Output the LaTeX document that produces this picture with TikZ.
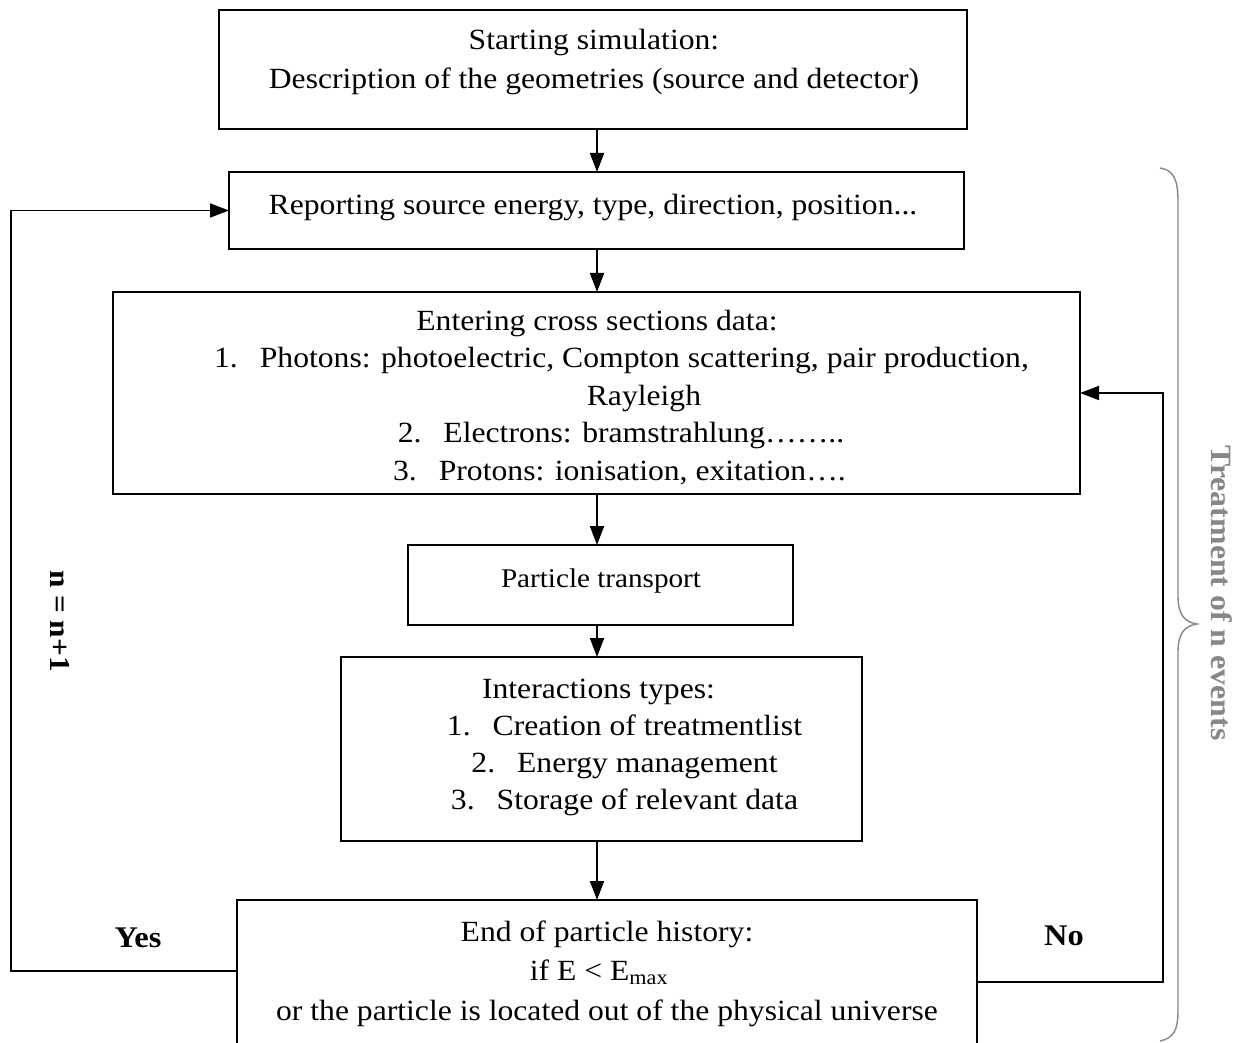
\documentclass[tikz,border=0pt]{standalone}
\usepackage{fontspec}
\setmainfont{Liberation Serif}[FakeStretch=1.08]
\usetikzlibrary{arrows.meta}
\definecolor{bracegray}{RGB}{135,135,135}

\begin{document}
\begin{tikzpicture}[x=1pt,y=-1pt,
  flowbox/.style={draw, line width=1.8pt, inner sep=0pt, outer sep=0pt},
  txt/.style={align=center, inner sep=0pt,
    font=\fontsize{29.3}{#1}\selectfont,
    execute at begin node=\strut, execute at end node=\strut},
  txt/.default=37.5,
  lbl/.style={inner sep=0pt, font=\fontsize{30}{36}\selectfont\bfseries},
  arr/.style={line width=1.8pt, -{Triangle[length=19pt,width=14pt]}}]

% page area
\clip (0,0) rectangle (1243,1043);
\fill[white] (0,0) rectangle (1243,1043);

% boxes
\node[flowbox, minimum width=748pt, minimum height=119pt] (b1) at (593,69.5) {};
\node[flowbox, minimum width=735pt, minimum height=77pt]  (b2) at (596.5,210.5) {};
\node[flowbox, minimum width=967pt, minimum height=202pt] (b3) at (596.5,393) {};
\node[flowbox, minimum width=385pt, minimum height=80pt]  (b4) at (600.5,585) {};
\node[flowbox, minimum width=521pt, minimum height=184pt] (b5) at (601.5,749) {};
\node[flowbox, minimum width=740pt, minimum height=160pt] (b6) at (607,980) {};

% box texts
\node[txt=39] (t1) at (594,65) {Starting simulation:\\Description of the geometries (source and detector)};
\node[txt] (t2) at (593,207) {Reporting source energy, type, direction, position...};
\node[txt] (t3) at (597,400.5) {Entering cross sections data:\\
  \hspace*{49pt}1.\hspace{0.75em}Photons: photoelectric, Compton scattering, pair production,\\
  \hspace*{94pt}Rayleigh\\
  \hspace*{48pt}2.\hspace{0.75em}Electrons: bramstrahlung……..\\
  \hspace*{45pt}3.\hspace{0.75em}Protons: ionisation, exitation….};
\node[txt, font=\fontsize{27}{37.5}\selectfont] (t4) at (601,580) {Particle transport};
\node[txt=37] (t5) at (600,749.5) {\hspace*{-3pt}Interactions types:\\
  \hspace*{49pt}1.\hspace{0.75em}Creation of treatmentlist\\
  \hspace*{49pt}2.\hspace{0.75em}Energy management\\
  \hspace*{49pt}3.\hspace{0.75em}Storage of relevant data};
\node[txt=39.5] (t6) at (607,976.5) {End of particle history:\\
  \hspace*{-16pt}if E < E\textsubscript{max}\\
  or the particle is located out of the physical universe};

% main flow
\coordinate (axis) at (597,0);
\draw[arr] (b1.south -| axis) -- (b2.north -| axis);
\draw[arr] (b2.south -| axis) -- (b3.north -| axis);
\draw[arr] (b3.south -| axis) -- (b4.north -| axis);
\draw[arr] (b4.south -| axis) -- (b5.north -| axis);
\draw[arr] (b5.south -| axis) -- (b6.north -| axis);

% loops
\coordinate (loopL) at (11,971);
\coordinate (loopR) at (1163,982);
\draw[arr] (b6.west |- loopL) -- (loopL) |- (b2.west);
\draw[arr] (b6.east |- loopR) -- (loopR) |- (b3.east);

\node[lbl] (yes) at (138,938) {Yes};
\node[lbl] (no) at (1064,936) {No};
\node[lbl, font=\fontsize{29}{36}\selectfont\bfseries, rotate=-90] (inc) at (60,621) {n = n+1};

% brace over the loop
\draw[bracegray, line width=1.4pt]
  (1160,168) .. controls (1174,170) and (1178,180) .. (1178,202)
  -- (1178,596) .. controls (1178,614) and (1184,622) .. (1197,624)
  .. controls (1184,626) and (1178,634) .. (1178,652)
  -- (1178,1010) .. controls (1178,1030) and (1174,1038) .. (1160,1041);
\node[lbl, font=\fontsize{29.5}{36}\selectfont\bfseries, text=bracegray, rotate=-90] (events) at (1222,593) {Treatment of n events};
\end{tikzpicture}
\end{document}
